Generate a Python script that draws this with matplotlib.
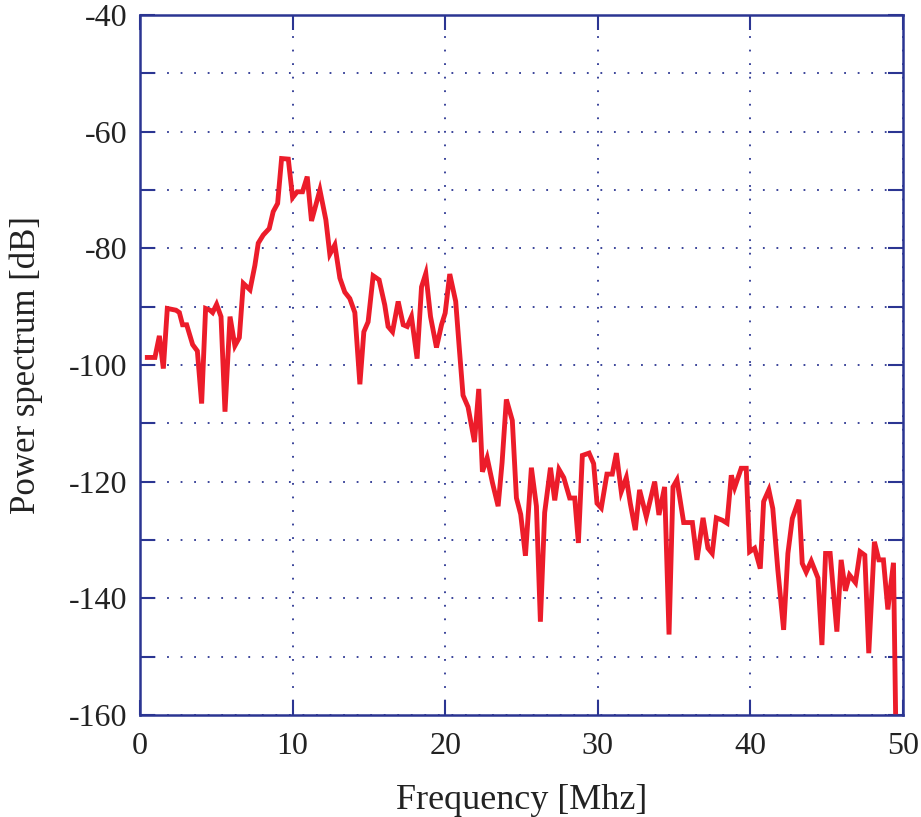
import matplotlib.pyplot as plt
import numpy as np

# spectrum samples (MHz, dB)
freq = [0.48, 0.98, 1.27, 1.53, 1.79, 2.36, 2.58, 2.79, 3.06, 3.45, 3.76, 4.04,
        4.30, 4.59, 4.76, 5.02, 5.31, 5.57, 5.90, 6.22, 6.51, 6.77, 7.21, 7.53,
        7.75, 8.08, 8.47, 8.73, 9.02, 9.28, 9.72, 10.0, 10.3, 10.65, 10.96, 11.24,
        11.79, 12.18, 12.44, 12.77, 13.1, 13.42, 13.75, 14.08, 14.41, 14.67, 14.95,
        15.28, 15.67, 16.04, 16.26, 16.55, 16.92, 17.25, 17.51, 17.79, 18.16, 18.45,
        18.73, 19.04, 19.43, 19.76, 20.0, 20.3, 20.69, 20.91, 21.17, 21.5, 21.92,
        22.2, 22.44, 22.75, 23.1, 23.47, 23.73, 24.01, 24.4, 24.67, 24.95, 25.26,
        25.65, 25.98, 26.24, 26.52, 26.9, 27.18, 27.46, 27.77, 28.16, 28.49, 28.73,
        28.99, 29.43, 29.73, 29.95, 30.23, 30.6, 30.95, 31.22, 31.54, 31.87, 32.13,
        32.46, 32.74, 33.18, 33.73, 34.01, 34.38, 34.67, 34.93, 35.19, 35.63, 36.2,
        36.5, 36.9, 37.22, 37.5, 37.77, 38.16, 38.47, 38.75, 38.97, 39.4, 39.73,
        39.95, 40.28, 40.65, 40.87, 41.21, 41.47, 41.8, 42.18, 42.46, 42.75, 43.18,
        43.4, 43.66, 43.99, 44.43, 44.69, 44.93, 45.23, 45.67, 45.95, 46.23, 46.5,
        46.89, 47.19, 47.5, 47.76, 48.13, 48.42, 48.72, 49.01, 49.38, 49.6]
power = [-98.7, -98.7, -95.0, -100.6, -90.3, -90.6, -91.0, -93.1, -93.1, -96.5, -97.6, -106.6,
         -90.3, -90.6, -91.0, -89.6, -91.7, -108.0, -91.7, -96.7, -95.3, -86.0, -87.1, -82.9,
         -79.1, -77.7, -76.6, -73.7, -72.3, -64.6, -64.7, -71.3, -70.3, -70.3, -67.7, -75.3,
         -70.0, -75.1, -81.0, -79.4, -85.1, -87.5, -88.6, -91.0, -103.3, -94.3, -92.6,
         -84.7, -85.4, -89.7, -93.4, -94.3, -89.1, -93.1, -93.4, -91.7, -98.9, -86.6,
         -84.3, -91.7, -97.0, -93.1, -91.1, -84.4, -89.1, -96.6, -105.2, -107.2, -113.2,
         -104.1, -118.3, -115.9, -120.2, -124.2, -116.7, -105.9, -109.5, -122.8, -125.6, -132.7,
         -117.6, -124.2, -144.0, -125.3, -117.6, -123.2, -117.9, -119.3, -122.8, -122.8, -130.5,
         -115.5, -115.1, -116.9, -123.7, -124.5, -118.7, -118.7, -115.1, -121.7, -119.3, -123.7,
         -128.3, -121.4, -126.0, -120.0, -125.7, -120.9, -146.2, -120.9, -119.7, -127.0, -127.0,
         -133.4, -126.2, -131.4, -132.3, -126.2, -126.6, -127.1, -118.9, -121.0, -117.7, -117.7,
         -132.0, -131.4, -134.9, -123.4, -121.4, -124.6, -135.1, -145.4, -132.3, -126.3, -123.1,
         -134.0, -135.5, -133.6, -136.5, -148.0, -132.3, -132.3, -145.7, -133.4, -138.7, -136.0,
         -137.3, -132.0, -132.6, -149.4, -130.3, -133.4, -133.4, -141.9, -133.9, -175.0]

x_ticks = [0, 10, 20, 30, 40, 50]
y_ticks = list(range(-160, -39, 10))
y_labels = [str(v) if v % 20 == 0 else "" for v in y_ticks]

navy = "#2b3592"
plt.rcParams["font.family"] = ["Liberation Serif", "DejaVu Serif"]

fig = plt.figure(figsize=(9.21, 8.17), dpi=100)
ax = fig.add_axes([0.152, 0.1248, 0.8284, 0.8568])

ax.plot(freq, power, color="#ec1c2a", lw=3.5, solid_joinstyle="miter", zorder=3)

ax.set_xlim(0, 50)
ax.set_ylim(-160, -40)
ax.set_xticks(x_ticks)
ax.set_yticks(y_ticks)
ax.set_yticklabels(y_labels)

ax.grid(True, color=navy, lw=1.3, linestyle=(0, (1, 6.5)))
for s in ax.spines.values():
    s.set_color(navy)
    s.set_linewidth(1.8)
    s.set_zorder(4)

ax.tick_params(axis="both", direction="in", length=10.5, width=1.5, color=navy,
               top=True, right=True, labelsize=23, labelcolor="#222222")
ax.tick_params(axis="x", pad=12)
ax.tick_params(axis="y", pad=9)

ax.set_xlabel("Frequency [Mhz]", fontsize=26, color="#222222", labelpad=17)
ax.set_ylabel("Power spectrum [dB]", fontsize=25, color="#222222", labelpad=19)

fig.savefig("out.png", dpi=100)
